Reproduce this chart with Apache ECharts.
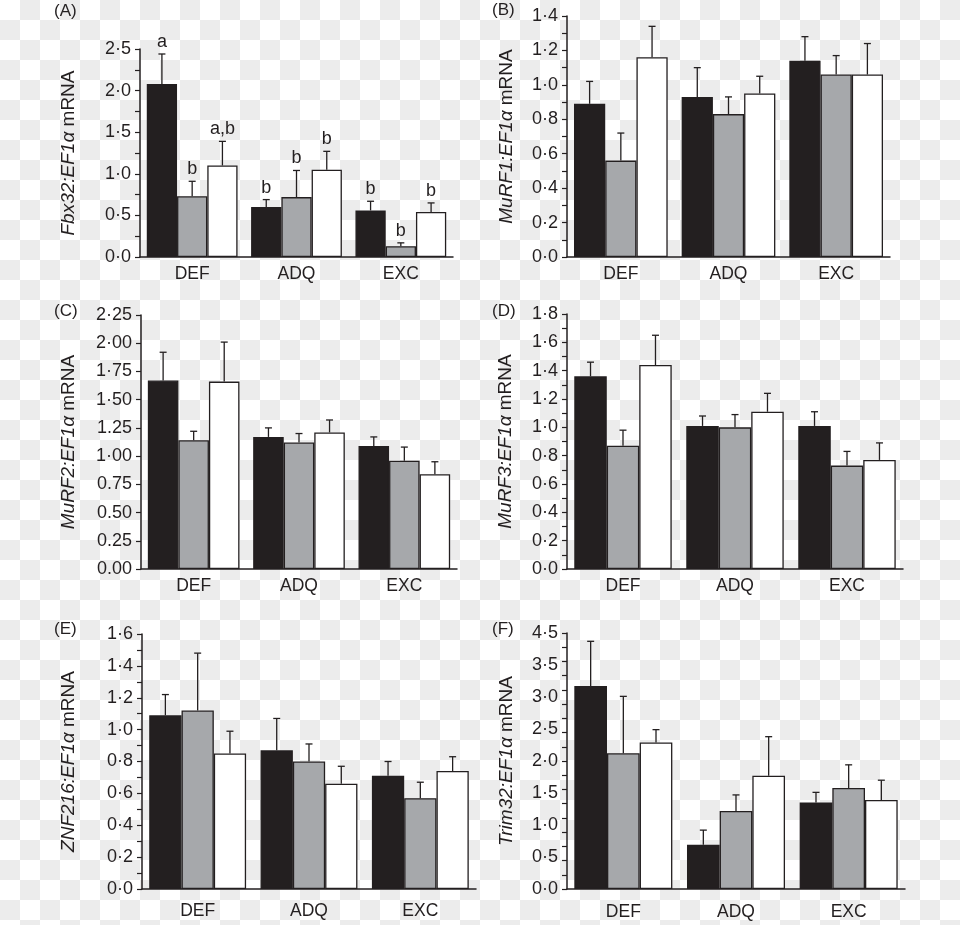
<!DOCTYPE html>
<html>
<head>
<meta charset="utf-8">
<script src="https://cdn.jsdelivr.net/npm/echarts@6/dist/echarts.min.js"></script>
<style>
html,body{margin:0;padding:0;}
body{background:repeating-conic-gradient(#ececec 0 25%, #ffffff 0 50%) 0 0/40px 40px;}
#chart{width:960px;height:925px;}
</style>
</head>
<body>
<div id="chart"></div>
<script>
// ---------- DATA ----------
const CATEGORIES = ['DEF', 'ADQ', 'EXC'];
const PANEL_LETTERS = ['(A)', '(B)', '(C)', '(D)', '(E)', '(F)'];
const GENE_LABELS = ['Fbx32:EF1α', 'MuRF1:EF1α', 'MuRF2:EF1α', 'MuRF3:EF1α', 'ZNF216:EF1α', 'Trim32:EF1α'];

// Panel A – Fbx32
const A_BLACK = [2.08, 0.60, 0.56];
const A_BLACK_SE = [0.36, 0.09, 0.11];
const A_GREY = [0.73, 0.72, 0.13];
const A_GREY_SE = [0.18, 0.32, 0.04];
const A_WHITE = [1.10, 1.05, 0.54];
const A_WHITE_SE = [0.29, 0.22, 0.11];
const A_LETTERS_BLACK = ['a', 'b', 'b'];
const A_LETTERS_GREY = ['b', 'b', 'b'];
const A_LETTERS_WHITE = ['a,b', 'b', 'b'];
const A_TICKS = ['0·0', '0·5', '1·0', '1·5', '2·0', '2·5'];

// Panel B – MuRF1
const B_BLACK = [0.89, 0.93, 1.14];
const B_BLACK_SE = [0.13, 0.17, 0.14];
const B_GREY = [0.56, 0.83, 1.06];
const B_GREY_SE = [0.16, 0.10, 0.11];
const B_WHITE = [1.16, 0.95, 1.06];
const B_WHITE_SE = [0.18, 0.10, 0.18];
const B_TICKS = ['0·0', '0·2', '0·4', '0·6', '0·8', '1·0', '1·2', '1·4'];

// Panel C – MuRF2
const C_BLACK = [1.67, 1.17, 1.09];
const C_BLACK_SE = [0.25, 0.08, 0.08];
const C_GREY = [1.14, 1.12, 0.96];
const C_GREY_SE = [0.08, 0.08, 0.12];
const C_WHITE = [1.66, 1.21, 0.84];
const C_WHITE_SE = [0.35, 0.11, 0.11];
const C_TICKS = ['0.00', '0.25', '0.50', '0.75', '1·00', '1.25', '1·50', '1·75', '2·00', '2·25'];

// Panel D – MuRF3
const D_BLACK = [1.36, 1.01, 1.01];
const D_BLACK_SE = [0.10, 0.07, 0.10];
const D_GREY = [0.87, 1.00, 0.73];
const D_GREY_SE = [0.11, 0.09, 0.10];
const D_WHITE = [1.44, 1.11, 0.77];
const D_WHITE_SE = [0.21, 0.13, 0.12];
const D_TICKS = ['0·0', '0·2', '0·4', '0·6', '0·8', '1·0', '1·2', '1·4', '1·6', '1·8'];

// Panel E – ZNF216
const E_BLACK = [1.09, 0.87, 0.71];
const E_BLACK_SE = [0.13, 0.20, 0.09];
const E_GREY = [1.12, 0.80, 0.57];
const E_GREY_SE = [0.36, 0.11, 0.10];
const E_WHITE = [0.85, 0.66, 0.74];
const E_WHITE_SE = [0.14, 0.11, 0.09];
const E_TICKS = ['0·0', '0·2', '0·4', '0·6', '0·8', '1·0', '1·2', '1·4', '1·6'];

// Panel F – Trim32 (values read against the printed labels)
const F_BLACK = [3.17, 0.69, 1.35];
const F_BLACK_SE = [0.70, 0.23, 0.16];
const F_GREY = [2.12, 1.22, 1.58];
const F_GREY_SE = [0.89, 0.25, 0.36];
const F_WHITE = [2.29, 1.77, 1.39];
const F_WHITE_SE = [0.20, 0.61, 0.31];
const F_TICKS = ['0·0', '0·5', '1·0', '1·5', '2·0', '2·5', '3·0', '3·5', '4·5'];

// ---------- LAYOUT / STYLE ----------
const INK = '#231f20';
const FILLS = ['#231f20', '#a6a8ab', '#ffffff'];
const FONT = '"Liberation Sans", Arial, Helvetica, sans-serif';
const GAP = 0.13;

const panels = [
  {grid:{left:140, top:49, width:313, height:208}, max:2.5, interval:0.5, minor:2, ticks:A_TICKS,
   data:[A_BLACK, A_GREY, A_WHITE], se:[A_BLACK_SE, A_GREY_SE, A_WHITE_SE],
   letters:[A_LETTERS_BLACK, A_LETTERS_GREY, A_LETTERS_WHITE], nameGap:62, labelMargin:8},
  {grid:{left:567, top:16, width:323, height:241}, max:1.4, interval:0.2, minor:2, ticks:B_TICKS,
   data:[B_BLACK, B_GREY, B_WHITE], se:[B_BLACK_SE, B_GREY_SE, B_WHITE_SE], nameGap:51, labelMargin:8},
  {grid:{left:141, top:315, width:316, height:254}, max:2.25, interval:0.25, minor:0, ticks:C_TICKS,
   data:[C_BLACK, C_GREY, C_WHITE], se:[C_BLACK_SE, C_GREY_SE, C_WHITE_SE], nameGap:63, labelMargin:8},
  {grid:{left:567, top:314, width:336, height:255}, max:1.8, interval:0.2, minor:2, ticks:D_TICKS,
   data:[D_BLACK, D_GREY, D_WHITE], se:[D_BLACK_SE, D_GREY_SE, D_WHITE_SE], nameGap:52, labelMargin:8},
  {grid:{left:142, top:634, width:334, height:255}, max:1.6, interval:0.2, minor:2, ticks:E_TICKS,
   data:[E_BLACK, E_GREY, E_WHITE], se:[E_BLACK_SE, E_GREY_SE, E_WHITE_SE], nameGap:64, labelMargin:13},
  {grid:{left:567, top:633, width:338, height:256}, max:4, interval:0.5, minor:0, ticks:F_TICKS,
   data:[F_BLACK, F_GREY, F_WHITE], se:[F_BLACK_SE, F_GREY_SE, F_WHITE_SE], nameGap:51, labelMargin:14,
   tickAxis:{max:4.5, interval:0.25}}
];
const titlePos = [[54,3],[492,2],[54,303],[492,303],[54,621],[492,621]];

const grids = [], xAxes = [], yAxes = [], series = [], titles = [];

panels.forEach((p, pi) => {
  grids.push(p.grid);
  titles.push({text: PANEL_LETTERS[pi], left: titlePos[pi][0], top: titlePos[pi][1], padding: 0,
    textStyle: {fontFamily: FONT, fontSize: 17, fontWeight: 'normal', color: INK}});
  xAxes.push({
    type: 'category', gridIndex: pi, data: CATEGORIES,
    axisLine: {lineStyle: {color: INK, width: 1.5}},
    axisTick: {show: false},
    axisLabel: {color: INK, fontSize: 17.5, fontFamily: FONT, margin: p.labelMargin}
  });
  const yIndex = yAxes.length;
  const labelAxis = {
    type: 'value', gridIndex: pi, min: 0, max: p.max, interval: p.interval, position: 'left',
    name: '{it|' + GENE_LABELS[pi] + '} mRNA', nameLocation: 'middle', nameRotate: 90, nameGap: p.nameGap,
    nameTextStyle: {color: INK, fontSize: 19, fontFamily: FONT,
      rich: {it: {fontStyle: 'italic', fontSize: 19, fontFamily: FONT, color: INK}}},
    splitLine: {show: false},
    axisLine: {show: !p.tickAxis, lineStyle: {color: INK, width: 1.5}},
    axisTick: {show: !p.tickAxis, length: 5, lineStyle: {color: INK, width: 1.2}},
    minorTick: {show: p.minor > 0, splitNumber: p.minor || 5, length: 5, lineStyle: {color: INK, width: 1.2}},
    axisLabel: {color: INK, fontSize: 18, fontFamily: FONT, margin: 9,
      formatter: (v) => p.ticks[Math.round(v / p.interval)] || ''}
  };
  yAxes.push(labelAxis);
  if (p.tickAxis) {
    yAxes.push({
      type: 'value', gridIndex: pi, min: 0, max: p.tickAxis.max, interval: p.tickAxis.interval, position: 'left',
      splitLine: {show: false},
      axisLine: {show: true, lineStyle: {color: INK, width: 1.5}},
      axisTick: {show: true, length: 5, lineStyle: {color: INK, width: 1.2}},
      axisLabel: {show: false}
    });
  }
  // bars
  p.data.forEach((vals, g) => {
    series.push({
      type: 'bar', xAxisIndex: pi, yAxisIndex: yIndex, data: vals,
      barGap: '0%', barCategoryGap: (GAP * 100) + '%',
      itemStyle: {color: FILLS[g], borderColor: INK, borderWidth: 1.3},
      emphasis: {disabled: true}, silent: true, z: 2
    });
  });
  // error bars + significance letters
  const errData = [];
  const errLetters = [];
  p.data.forEach((vals, g) => {
    vals.forEach((v, c) => {
      errData.push([c, v + p.se[g][c], v, g]);
      errLetters.push(p.letters ? p.letters[g][c] : '');
    });
  });
  series.push({
    type: 'custom', xAxisIndex: pi, yAxisIndex: yIndex, data: errData, silent: true, z: 3, clip: false,
    renderItem: function (params, api) {
      const c = api.value(0), top = api.value(1), mean = api.value(2), g = api.value(3);
      const band = api.size([1, 0])[0];
      const bw = band * (1 - GAP) / 3;
      const x = api.coord([c, mean])[0] + (g - 1) * bw;
      const y0 = api.coord([c, mean])[1];
      const y1 = api.coord([c, top])[1];
      const cap = 3.5;
      const children = [
        {type: 'line', shape: {x1: x, y1: y0, x2: x, y2: y1}, style: {stroke: INK, lineWidth: 1.3}},
        {type: 'line', shape: {x1: x - cap, y1: y1, x2: x + cap, y2: y1}, style: {stroke: INK, lineWidth: 1.3}}
      ];
      const letter = errLetters[params.dataIndex];
      if (letter) {
        children.push({type: 'text', style: {text: letter, x: x, y: y1 - 3, textAlign: 'center', textVerticalAlign: 'bottom',
          fill: INK, fontSize: 18, fontFamily: FONT}});
      }
      return {type: 'group', children: children};
    }
  });
});

const chart = echarts.init(document.getElementById('chart'), null, {renderer: 'canvas'});
chart.setOption({
  backgroundColor: 'transparent',
  animation: false,
  title: titles,
  grid: grids,
  xAxis: xAxes,
  yAxis: yAxes,
  series: series
});
</script>
</body>
</html>
